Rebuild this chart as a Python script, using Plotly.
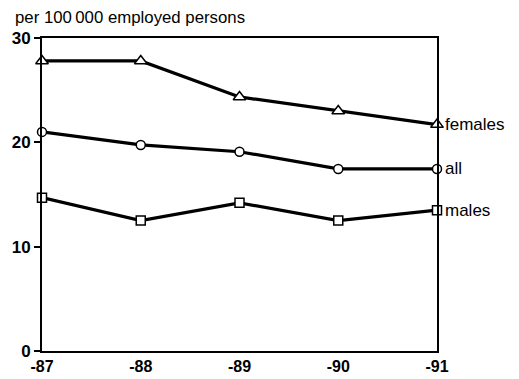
import plotly.graph_objects as go

years = ["-87", "-88", "-89", "-90", "-91"]
x_pos = [0, 1, 2, 3, 4]
females = [27.8, 27.8, 24.35, 23.0, 21.7]
all_persons = [21.0, 19.75, 19.1, 17.45, 17.45]
males = [14.7, 12.5, 14.2, 12.5, 13.5]
series = [("females", females, "triangle-up", 11), ("all", all_persons, "circle", 9), ("males", males, "square", 9)]
y_ticks = [0, 10, 20, 30]
FONT = "Liberation Sans, Arial, Helvetica"

fig = go.Figure()
for name, vals, sym, sz in series:
    fig.add_trace(go.Scatter(
        x=x_pos, y=vals, mode="lines+markers", name=name,
        line=dict(color="black", width=3.2),
        marker=dict(symbol=sym, size=sz, color="white",
                    line=dict(color="black", width=1.5)),
        cliponaxis=False, showlegend=False))
    fig.add_annotation(x=x_pos[-1], y=vals[-1], text=name, xref="x", yref="y",
                       xanchor="left", yanchor="middle", xshift=6, showarrow=False,
                       font=dict(family=FONT, size=17, color="black"))

fig.add_annotation(x=0, y=1, xref="paper", yref="paper", text="per 100\u2009000 employed persons",
                   xanchor="left", yanchor="bottom", xshift=-29, yshift=9, showarrow=False,
                   font=dict(family=FONT, size=16.8, color="black"))

fig.update_xaxes(range=[0, 4], tickvals=x_pos, ticktext=years, showline=True, mirror=True,
                 linecolor="black", linewidth=2, showgrid=False, zeroline=False, ticks="",
                 automargin=False,
                 tickfont=dict(family=FONT, size=16, color="black", weight="bold"))
fig.update_yaxes(range=[0, 30], tickvals=y_ticks, showline=True, mirror=True,
                 linecolor="black", linewidth=2, showgrid=False, zeroline=False,
                 ticks="outside", ticklen=6, tickwidth=1.5, tickcolor="black",
                 automargin=False,
                 tickfont=dict(family=FONT, size=17, color="black", weight="bold"))

fig.update_layout(width=519, height=379, margin=dict(l=42, r=82, t=38, b=28),
                  paper_bgcolor="white", plot_bgcolor="white",
                  font=dict(family=FONT, color="black"))
fig.write_html("out.html", config={"displayModeBar": False},
               post_script="document.body.style.margin='0px';")
